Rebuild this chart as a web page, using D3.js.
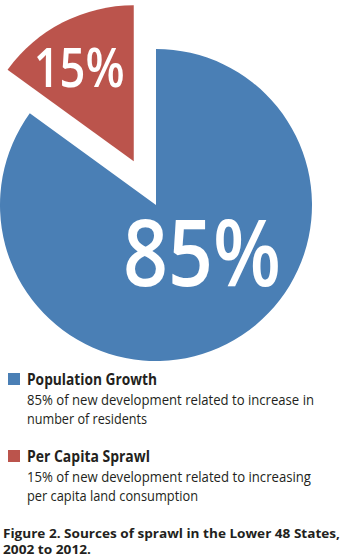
<!DOCTYPE html>
<html>
<head>
<meta charset="utf-8">
<script src="https://cdn.jsdelivr.net/npm/d3@7"></script>
<style>
  html, body { margin: 0; padding: 0; background: #fff; }
  svg { display: block; }
  text { font-family: "Open Sans", "Noto Sans", sans-serif; }
</style>
</head>
<body>
<svg id="chart" width="343" height="559"></svg>
<script>
// ---- data ----
const categories = ["Per Capita Sprawl", "Population Growth"];
const values = [15, 85];
const valueLabels = ["15%", "85%"];
const colors = ["#bb544c", "#4a7fb5"];
const descriptions = [
  ["15% of new development related to increasing", "per capita land consumption"],
  ["85% of new development related to increase in", "number of residents"]
];
const captionLines = ["Figure 2. Sources of sprawl in the Lower 48 States,", "2002 to 2012."];

// ---- layout ----
const W = 343, H = 559;
const cx = 156, cy = 205, R = 156;
const explode = [49, 0];

const svg = d3.select("#chart");
const total = d3.sum(values);
const start = -2 * Math.PI * values[0] / total;
const pie = d3.pie().sort(null).startAngle(start).endAngle(start + 2 * Math.PI);
const arcs = pie(values);
const arc = d3.arc().innerRadius(0).outerRadius(R);

const g = svg.append("g").attr("transform", `translate(${cx},${cy})`);

arcs.forEach((a, i) => {
  const mid = (a.startAngle + a.endAngle) / 2;
  const dx = Math.sin(mid) * explode[i], dy = -Math.cos(mid) * explode[i];
  const sg = g.append("g").attr("transform", `translate(${dx},${dy})`);
  sg.append("path").attr("d", arc(a)).attr("fill", colors[i]);
});

// value labels
{
  const a = arcs[0];
  const mid = (a.startAngle + a.endAngle) / 2;
  const ox = Math.sin(mid) * explode[0], oy = -Math.cos(mid) * explode[0];
  g.append("text")
    .attr("x", ox - 0.35 * R)
    .attr("y", oy - 0.475 * R)
    .attr("text-anchor", "middle")
    .attr("fill", "#fff")
    .attr("font-size", 55)
    .attr("font-weight", 600)
    .attr("textLength", 91)
    .attr("lengthAdjust", "spacingAndGlyphs")
    .text(valueLabels[0]);
}
g.append("text")
  .attr("x", 0.295 * R)
  .attr("y", 0.52 * R)
  .attr("text-anchor", "middle")
  .attr("fill", "#fff")
  .attr("font-size", 92)
  .attr("font-weight", 600)
  .attr("textLength", 158)
  .attr("lengthAdjust", "spacingAndGlyphs")
  .text(valueLabels[1]);

// ---- legend ----
const legendOrder = [1, 0];
const legendTop = [373, 450];
const titleW = [130, 123];
const descW = [[287, 120], [284, 171]];
legendOrder.forEach((idx, k) => {
  const y0 = legendTop[k];
  svg.append("rect").attr("x", 8).attr("y", y0).attr("width", 12).attr("height", 12).attr("fill", colors[idx]);
  svg.append("text")
    .attr("x", 27).attr("y", y0 + 12)
    .attr("font-size", 15.5).attr("font-weight", "bold").attr("fill", "#231f20")
    .attr("textLength", titleW[k]).attr("lengthAdjust", "spacingAndGlyphs")
    .text(categories[idx]);
  descriptions[idx].forEach((line, j) => {
    svg.append("text")
      .attr("x", 27).attr("y", y0 + 32 + j * 19)
      .attr("font-size", 14).attr("fill", "#231f20")
      .attr("textLength", descW[k][j]).attr("lengthAdjust", "spacingAndGlyphs")
      .text(line);
  });
});

// ---- caption ----
const capW = [337, 88];
captionLines.forEach((line, j) => {
  svg.append("text")
    .attr("x", 3).attr("y", 538 + j * 15.5)
    .attr("font-size", 11.5).attr("font-weight", "bold").attr("fill", "#231f20")
    .attr("textLength", capW[j]).attr("lengthAdjust", "spacingAndGlyphs")
    .text(line);
});
</script>
</body>
</html>
